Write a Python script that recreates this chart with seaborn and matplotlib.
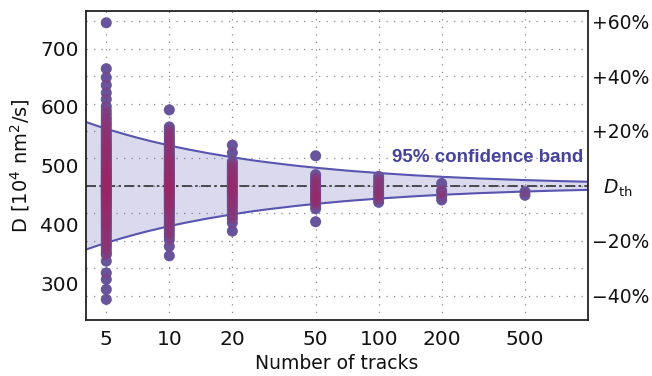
import numpy as np
import pandas as pd
import matplotlib
matplotlib.use("Agg")
import matplotlib.pyplot as plt
import seaborn as sns
from matplotlib.ticker import FixedLocator, NullLocator

# ---------------- data ----------------
D_th = 466.0

n5 = [743, 665, 650, 637, 624, 613, 601, 594, 588, 582, 577, 572, 568, 563, 559,
      555, 551, 547, 543, 540, 536, 533, 530, 527, 524, 521, 518, 515, 512, 509,
      506, 504, 501, 499, 496, 494, 491, 489, 487, 484, 482, 480, 478, 476, 474,
      472, 470, 468, 466, 464, 462, 460, 458, 456, 454, 452, 450, 448, 446, 444,
      441, 439, 437, 434, 432, 429, 427, 424, 421, 418, 415, 412, 409, 406, 403,
      400, 397, 393, 390, 386, 382, 378, 374, 370, 366, 362, 357, 352, 349, 338,
      318, 307, 290, 273]
n10 = [595, 566, 561, 556, 551, 547, 543, 539, 535, 531, 527, 523, 519, 515, 512,
       509, 506, 503, 500, 497, 494, 491, 488, 486, 483, 481, 478, 476, 474, 471,
       469, 467, 465, 463, 461, 459, 457, 455, 452, 450, 447, 445, 442, 439, 436,
       433, 430, 427, 424, 420, 416, 412, 408, 404, 400, 395, 390, 385, 380, 374,
       363, 347]
n20 = [535, 522, 507, 503, 499, 495, 491, 487, 483, 480, 477, 474, 471, 468, 465,
       462, 459, 456, 453, 450, 446, 442, 438, 434, 430, 425, 420, 415, 410, 403, 389]
n50 = [517, 485, 480, 476, 472, 468, 465, 461, 458, 454, 451, 448, 446, 443, 440,
       437, 433, 427, 405]
n100 = [482, 476, 471, 466, 461, 456, 452, 448, 443, 438]
n200 = [470, 458, 455, 448, 442]
n500 = [456, 450]

band_N = [4, 4.5, 5, 6, 7, 8, 10, 12, 15, 20, 25, 30, 40, 50, 70, 100, 150, 200,
          300, 500, 700, 1000]
band_upper = [574.3, 568.1, 562.9, 554.5, 547.9, 542.6, 534.5, 528.6, 522.0, 514.5,
              509.3, 505.6, 500.3, 496.7, 491.9, 487.7, 483.7, 481.3, 478.5, 475.7,
              474.2, 472.9]
band_lower = [357.7, 363.9, 369.1, 377.5, 384.1, 389.4, 397.5, 403.4, 410.0, 417.5,
              422.7, 426.4, 431.7, 435.3, 440.1, 444.3, 448.3, 450.7, 453.5, 456.3,
              457.8, 459.1]

x_ticks = [5, 10, 20, 50, 100, 200, 500]
y_ticks = [300, 400, 500, 600, 700]
pct_ticks = [0.6, 0.4, 0.2, 0.0, -0.2, -0.4]
pct_labels = ["+60%", "+40%", "+20%", r"  $D_{\mathrm{th}}$", "\u221220%", "\u221240%"]

# ---------------- tables ----------------
rows = []
for n, vals in [(5, n5), (10, n10), (20, n20), (50, n50), (100, n100), (200, n200), (500, n500)]:
    for v in vals:
        rows.append((n, v))
df = pd.DataFrame(rows, columns=["N", "D"])
band = pd.DataFrame({"N": band_N, "upper": band_upper, "lower": band_lower})

# ---------------- style ----------------
sns.set_theme(style="white")
plt.rcParams["font.family"] = ["DejaVu Sans"]
plt.rcParams["mathtext.fontset"] = "dejavusans"

purple = "#5069B4"
magenta = "#9E2462"
band_col = "#5855B0"

fig = plt.figure(figsize=(6.52, 3.76), dpi=100)
ax = fig.add_axes([86 / 652, (376 - 320) / 376, (588 - 86) / 652, (320 - 11) / 376])

ax.set_xscale("log")
ax.set_xlim(4, 1000)
ax.set_ylim(238, 763)

# grid
ax.xaxis.set_major_locator(FixedLocator(x_ticks))
ax.xaxis.set_minor_locator(NullLocator())
ax.set_xticklabels([str(t) for t in x_ticks])
ax.yaxis.set_major_locator(FixedLocator(y_ticks))
ax.yaxis.set_minor_locator(FixedLocator([D_th * (1 + 0.1 * k) for k in range(-5, 7)]))
ax.grid(False)
ax.grid(True, which="major", axis="x", linestyle=(0, (1, 5)), color="#8a8a8a", linewidth=0.9)
ax.grid(True, which="minor", axis="y", linestyle=(0, (1, 5)), color="#8a8a8a", linewidth=0.9)
ax.set_axisbelow(True)

# confidence band
ax.fill_between(band["N"], band["lower"], band["upper"], color=band_col, alpha=0.22,
                linewidth=0, zorder=1)
sns.lineplot(data=band, x="N", y="upper", color=band_col, linewidth=1.5, ax=ax, zorder=2)
sns.lineplot(data=band, x="N", y="lower", color=band_col, linewidth=1.5, ax=ax, zorder=2)

# D_th line
ax.axhline(D_th, color="#333333", linewidth=1.2, dashes=(6, 2, 1.5, 2), zorder=2)

# points
sns.scatterplot(data=df, x="N", y="D", color=purple, s=62, edgecolor="none",
                linewidth=0, ax=ax, zorder=3)
sns.scatterplot(data=df, x="N", y="D", color=magenta, s=62, edgecolor="none",
                linewidth=0, alpha=0.3, ax=ax, zorder=4)

ax.text(0.99, 0.527, "95% confidence band", transform=ax.transAxes, ha="right",
        va="center", color="#45439C", fontsize=13.5, fontweight="bold",
        family=["Liberation Sans", "DejaVu Sans"], zorder=5)

ax.set_xlabel("Number of tracks", fontsize=13.5, labelpad=4, color="#111111")
ax.set_ylabel("D [10$^4$ nm$^2$/s]", fontsize=14, labelpad=6, color="#111111")
ax.tick_params(axis="both", which="both", length=0, labelsize=14.5, colors="#111111")
ax.tick_params(axis="x", pad=7)
ax.tick_params(axis="y", pad=5)

for s in ax.spines.values():
    s.set_visible(True)
    s.set_color("#222222")
    s.set_linewidth(1.3)

# right axis with percentages
ax2 = ax.twinx()
ax2.set_ylim(ax.get_ylim())
ax2.yaxis.set_major_locator(FixedLocator([D_th * (1 + p) for p in pct_ticks]))
ax2.set_yticklabels(pct_labels)
ax2.tick_params(axis="y", length=0, pad=3, labelsize=13.5, colors="#111111")
ax2.grid(False)
for s in ax2.spines.values():
    s.set_visible(False)

fig.savefig("out.png", dpi=100)
